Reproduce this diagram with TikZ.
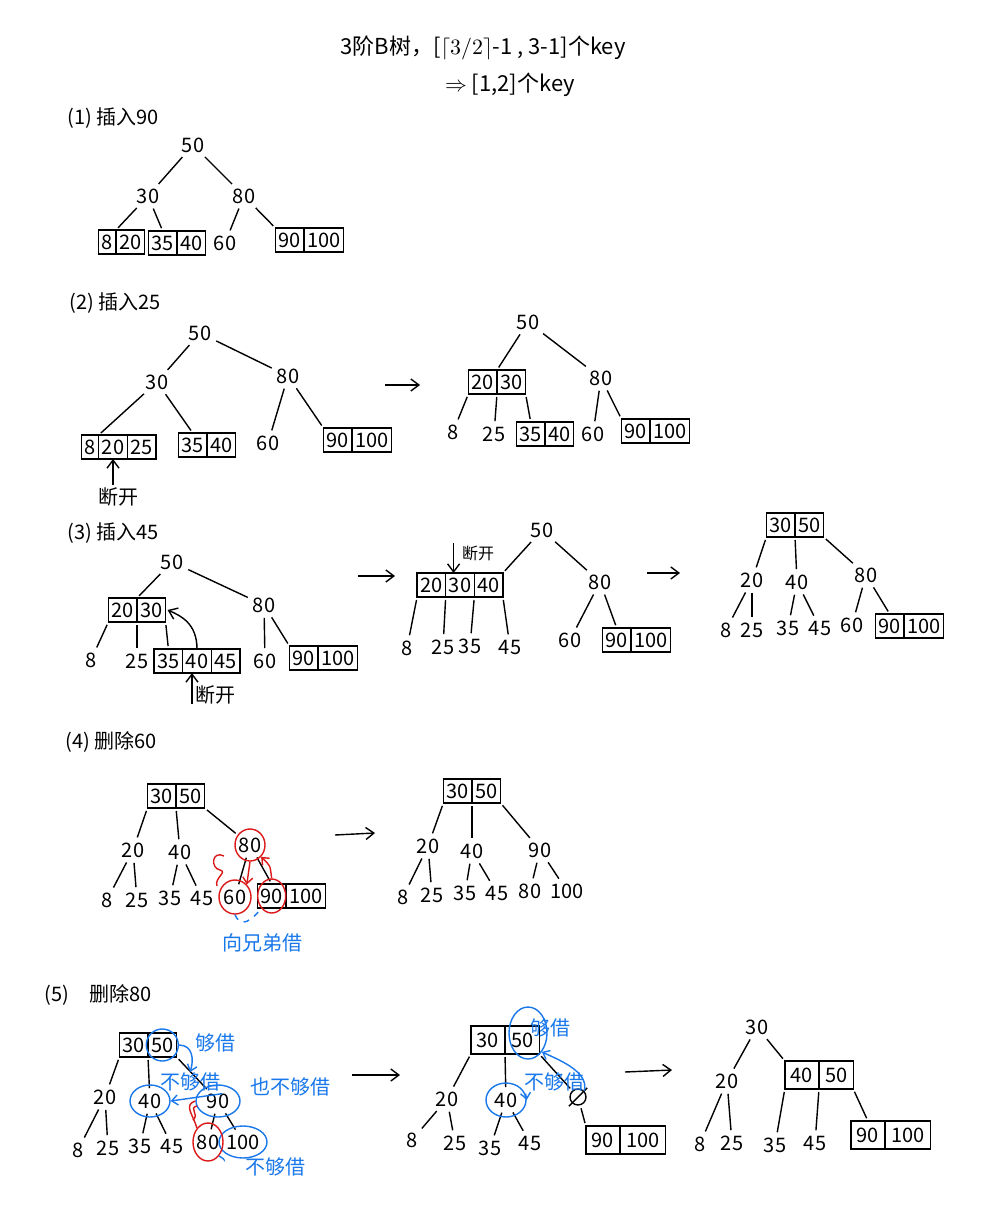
\documentclass[tikz,border=0pt]{standalone}
\usepackage{fontspec}
\setmainfont{Noto Sans CJK SC}
\usetikzlibrary{arrows.meta,shapes.geometric}
\definecolor{hblue}{RGB}{25,120,235}
\definecolor{hred}{RGB}{220,25,25}
\begin{document}
\begin{tikzpicture}[x=0.5pt,y=-0.5pt,
  key/.style={inner sep=1pt, font=\fontsize{10}{12}\selectfont},
  cell/.style={key, draw, line width=0.7pt, minimum height=12pt, inner xsep=1.6pt, outer sep=0pt},
  lnk/.style={line width=0.7pt, shorten <=1.5pt, shorten >=1.5pt},
  arr/.style={line width=0.7pt, -{Straight Barb[length=4pt,width=6pt]}},
  lbl/.style={font=\fontsize{10}{12}\selectfont, inner sep=1pt},
  bnote/.style={lbl, text=hblue},
  bline/.style={hblue, line width=0.7pt},
  rline/.style={hred, line width=0.7pt},
  bcirc/.style={ellipse, draw=hblue, line width=0.7pt, inner sep=0pt},
  rcirc/.style={ellipse, draw=hred, line width=0.7pt, inner sep=0pt}]
\fill[white] (0,0) rectangle (1000,1219);
\useasboundingbox (0,0) rectangle (1000,1219);

% title
\node[lbl,font=\fontsize{11}{13}\selectfont] (t1) at (483,48) {3阶B树，[$\lceil 3/2\rceil$-1 , 3-1]个key};
\node[lbl,font=\fontsize{11}{13}\selectfont] (t2) at (510,85) {$\Rightarrow$ [1,2]个key};

% ---------- (1)
\node[lbl,anchor=west] (h1) at (65,118) {(1) 插入90};
\node[key] (a50) at (193,145) {50};
\node[key] (a30) at (148,196) {30};
\node[key] (a80) at (244,196) {80};
\node[cell,anchor=east] (a8) at (116,242) {8};
\node[cell,anchor=west] (a20) at (a8.east) {20};
\node[cell,anchor=east] (a35) at (177,243) {35};
\node[cell,anchor=west] (a40) at (a35.east) {40};
\node[key] (a60) at (225,243) {60};
\node[cell,anchor=east] (a90) at (304,240) {90};
\node[cell,anchor=west] (a100) at (a90.east) {100};
\draw[lnk] (a50) -- (a30);
\draw[lnk] (a50) -- (a80);
\draw[lnk] (a30) -- (a20.north west);
\draw[lnk] (a30) -- (a35.north);
\draw[lnk] (a80) -- (a60);
\draw[lnk] (a80) -- (a90.north west);

% ---------- (2)
\node[lbl,anchor=west] (h2) at (67,303) {(2) 插入25};
\node[key] (b50) at (200,333) {50};
\node[key] (b30) at (157,382) {30};
\node[key] (b80) at (288,376) {80};
\node[cell] (b20) at (113,447) {20};
\node[cell,anchor=east] (b8) at (b20.west) {8};
\node[cell,anchor=west] (b25) at (b20.east) {25};
\node[cell,anchor=east] (b35) at (207,445) {35};
\node[cell,anchor=west] (b40) at (b35.east) {40};
\node[key] (b60) at (268,443) {60};
\node[cell,anchor=east] (b90) at (352,440) {90};
\node[cell,anchor=west] (b100) at (b90.east) {100};
\draw[lnk] (b50) -- (b30);
\draw[lnk] (b50) -- (b80);
\draw[lnk] (b30) -- (b20.north west);
\draw[lnk] (b30) -- (b35.north);
\draw[lnk] (b80) -- (b60);
\draw[lnk] (b80) -- (b90.north west);
\node[lbl] (bk) at (118,497) {断开};
\draw[arr] (b20.south |- bk.north) -- (b20.south);
\coordinate (ar1a) at (385,385); \coordinate (ar1b) at (420,385);
\draw[arr] (ar1a) -- (ar1b);

\node[key] (c50) at (528,322) {50};
\node[cell,anchor=east] (c20) at (497,382) {20};
\node[cell,anchor=west] (c30) at (c20.east) {30};
\node[key] (c80) at (601,378) {80};
\node[key] (c8) at (453,432) {8};
\node[key] (c25) at (494,434) {25};
\node[cell,anchor=east] (c35) at (545,434) {35};
\node[cell,anchor=west] (c40) at (c35.east) {40};
\node[key] (c60) at (593,434) {60};
\node[cell,anchor=east] (c90) at (650,431) {90};
\node[cell,anchor=west] (c100) at (c90.east) {100};
\draw[lnk] (c50) -- (c20.north east);
\draw[lnk] (c50) -- (c80);
\draw[lnk] (c20.south west) -- (c8);
\draw[lnk] (c20.south east) -- (c25);
\draw[lnk] (c30.south east) -- (c35.north);
\draw[lnk] (c80) -- (c60);
\draw[lnk] (c80) -- (c90.north west);

% ---------- (3)
\node[lbl,anchor=west] (h3) at (65,533) {(3) 插入45};
\node[key] (d50) at (172,562) {50};
\node[cell,anchor=east] (d20) at (137,610) {20};
\node[cell,anchor=west] (d30) at (d20.east) {30};
\node[key] (d80) at (264,605) {80};
\node[key] (d8) at (91,660) {8};
\node[key] (d25) at (137,661) {25};
\node[cell] (d40) at (197,661) {40};
\node[cell,anchor=east] (d35) at (d40.west) {35};
\node[cell,anchor=west] (d45) at (d40.east) {45};
\node[key] (d60) at (265,661) {60};
\node[cell,anchor=east] (d90) at (318,658) {90};
\node[cell,anchor=west] (d100) at (d90.east) {100};
\draw[lnk] (d50) -- (d20.north east);
\draw[lnk] (d50) -- (d80);
\draw[lnk] (d20.south west) -- (d8);
\draw[lnk] (d20.south east) -- (d25);
\draw[lnk] (d30.south east) -- (d35.north);
\draw[lnk] (d80) -- (d60);
\draw[lnk] (d80) -- (d90.north west);
\draw[arr] (d40.north) .. controls +(0,-25) and +(14,6) .. ([xshift=1pt]d30.east);
\node[lbl] (dk) at (215,695) {断开};
\coordinate (dkb) at (192,704);
\draw[arr] (dkb) -- (dkb |- d40.south);
\coordinate (ar2a) at (358,576); \coordinate (ar2b) at (395,576);
\draw[arr] (ar2a) -- (ar2b);

\node[key] (e50) at (542,530) {50};
\node[cell] (e30) at (460,585) {30};
\node[cell,anchor=east] (e20) at (e30.west) {20};
\node[cell,anchor=west] (e40) at (e30.east) {40};
\node[key] (e80) at (600,582) {80};
\node[key] (e8) at (407,648) {8};
\node[key] (e25) at (443,647) {25};
\node[key] (e35) at (470,646) {35};
\node[key] (e45) at (510,647) {45};
\node[key] (e60) at (570,640) {60};
\node[cell,anchor=east] (e90) at (631,640) {90};
\node[cell,anchor=west] (e100) at (e90.east) {100};
\draw[lnk] (e50) -- (e40.north east);
\draw[lnk] (e50) -- (e80);
\draw[lnk] (e20.south west) -- (e8);
\draw[lnk] (e20.south east) -- (e25);
\draw[lnk] (e30.south east) -- (e35);
\draw[lnk] (e40.south east) -- (e45);
\draw[lnk] (e80) -- (e60);
\draw[lnk] (e80) -- (e90.north);
\node[lbl,font=\fontsize{8}{10}\selectfont] (ek) at (478,553) {断开};
\draw[arr] ([xshift=-3pt]ek.north west) -- ([xshift=-3pt]ek.north west |- e30.north);
\coordinate (ar3a) at (647,573); \coordinate (ar3b) at (680,573);
\draw[arr] (ar3a) -- (ar3b);

\node[cell,anchor=east] (f30) at (795,525) {30};
\node[cell,anchor=west] (f50) at (f30.east) {50};
\node[key] (f20) at (752,580) {20};
\node[key] (f40) at (797,582) {40};
\node[key] (f80) at (866,575) {80};
\node[key] (f8) at (726,630) {8};
\node[key] (f25) at (752,630) {25};
\node[key] (f35) at (788,628) {35};
\node[key] (f45) at (820,628) {45};
\node[key] (f60) at (852,625) {60};
\node[cell,anchor=east] (f90) at (904,626) {90};
\node[cell,anchor=west] (f100) at (f90.east) {100};
\draw[lnk] (f30.south west) -- (f20);
\draw[lnk] (f30.south east) -- (f40);
\draw[lnk] (f50.south east) -- (f80);
\draw[lnk] (f20) -- (f8);
\draw[lnk] (f20) -- (f25);
\draw[lnk] (f40) -- (f35);
\draw[lnk] (f40) -- (f45);
\draw[lnk] (f80) -- (f60);
\draw[lnk] (f80) -- (f90.north);

% ---------- (4)
\node[lbl,anchor=west] (h4) at (63,742) {(4) 删除60};
\node[cell,anchor=east] (g30) at (176,796) {30};
\node[cell,anchor=west] (g50) at (g30.east) {50};
\node[key] (g20) at (133,850) {20};
\node[key] (g40) at (180,852) {40};
\node[key] (g80) at (250,845) {80};
\node[key] (g8) at (107,900) {8};
\node[key] (g25) at (137,900) {25};
\node[key] (g35) at (170,898) {35};
\node[key] (g45) at (202,898) {45};
\node[key] (g60) at (235,897) {60};
\node[cell,anchor=east] (g90) at (286,896) {90};
\node[cell,anchor=west] (g100) at (g90.east) {100};
\draw[lnk] (g30.south west) -- (g20);
\draw[lnk] (g30.south east) -- (g40);
\draw[lnk] (g50.south east) -- (g80);
\draw[lnk] (g20) -- (g8);
\draw[lnk] (g20) -- (g25);
\draw[lnk] (g40) -- (g35);
\draw[lnk] (g40) -- (g45);
\draw[lnk] (g80) -- (g60);
\draw[lnk] (g80) -- (g90.north);
\node[rcirc,minimum width=15pt,minimum height=16pt] (rg80) at (g80) {};
\node[rcirc,minimum width=16pt,minimum height=17pt] (rg60) at (g60) {};
\node[rcirc,minimum width=14pt,minimum height=17pt] (rg90) at (g90) {};
\draw[rline,-{Straight Barb[length=3pt,width=5pt]}] (rg90.north) .. controls +(-2,-14) and +(10,10) .. (rg80.south east);
\draw[rline,-{Straight Barb[length=3pt,width=5pt]}] (rg80.south) -- (rg60.north east);
\draw[rline] (224,856) .. controls (212,850) and (210,868) .. (220,870) .. controls (228,872) and (214,878) .. (217,886);
\draw[bline,dashed] (rg60.south) .. controls +(6,14) and +(-10,12) .. (rg90.south west);
\node[bnote] (gn) at (262,943) {向兄弟借};
\coordinate (ar4a) at (335,835); \coordinate (ar4b) at (375,833);
\draw[arr] (ar4a) -- (ar4b);

\node[cell,anchor=east] (h30) at (472,791) {30};
\node[cell,anchor=west] (h50) at (h30.east) {50};
\node[key] (h20) at (428,846) {20};
\node[key] (h40) at (472,851) {40};
\node[key] (h90) at (540,850) {90};
\node[key] (h8) at (403,897) {8};
\node[key] (h25) at (432,895) {25};
\node[key] (h35) at (465,893) {35};
\node[key] (h45) at (497,893) {45};
\node[key] (h80) at (530,891) {80};
\node[key] (h100) at (567,891) {100};
\draw[lnk] (h30.south west) -- (h20);
\draw[lnk] (h30.south east) -- (h40);
\draw[lnk] (h50.south east) -- (h90);
\draw[lnk] (h20) -- (h8);
\draw[lnk] (h20) -- (h25);
\draw[lnk] (h40) -- (h35);
\draw[lnk] (h40) -- (h45);
\draw[lnk] (h90) -- (h80);
\draw[lnk] (h90) -- (h100);

% ---------- (5)
\node[lbl,anchor=west] (h5) at (42,995) {(5)\quad 删除80};
\node[cell,anchor=east] (i30) at (148,1045) {30};
\node[cell,anchor=west] (i50) at (i30.east) {50};
\node[key] (i20) at (105,1097) {20};
\node[key] (i40) at (150,1101) {40};
\node[key] (i90) at (218,1101) {90};
\node[key] (i8) at (78,1150) {8};
\node[key] (i25) at (108,1148) {25};
\node[key] (i35) at (140,1146) {35};
\node[key] (i45) at (172,1146) {45};
\node[key] (i80) at (208,1142) {80};
\node[key] (i100) at (243,1142) {100};
\draw[lnk] (i30.south west) -- (i20);
\draw[lnk] (i30.south east) -- (i40);
\draw[lnk] (i50.south east) -- (i90);
\draw[lnk] (i20) -- (i8);
\draw[lnk] (i20) -- (i25);
\draw[lnk] (i40) -- (i35);
\draw[lnk] (i40) -- (i45);
\draw[lnk] (i90) -- (i80);
\draw[lnk] (i90) -- (i100);
\node[bcirc,minimum width=16pt,minimum height=16pt] (ci50) at (i50) {};
\node[bcirc,minimum width=20pt,minimum height=16pt] (ci40) at (i40) {};
\node[bcirc,minimum width=22pt,minimum height=16pt] (ci90) at (i90) {};
\node[bcirc,minimum width=24pt,minimum height=16pt] (ci100) at (i100) {};
\node[rcirc,minimum width=15pt,minimum height=19pt] (ci80) at (i80) {};
\node[bnote] (in1) at (215,1043) {够借};
\node[bnote] (in2) at (190,1082) {不够借};
\node[bnote] (in3) at (290,1087) {也不够借};
\node[bnote] (in4) at (275,1167) {不够借};
\draw[bline,-{Straight Barb[length=3pt,width=5pt]}] (ci50.east) .. controls +(14,0) and +(4,-12) .. (190,1072);
\draw[bline,-{Straight Barb[length=3pt,width=5pt]}] (in2.south east) -- (ci40.east);
\draw[rline] (ci90.west) .. controls +(-12,4) and +(-4,-14) .. (ci80.north west);
\draw[rline] (197,1106) .. controls (188,1108) and (200,1114) .. (193,1120);
\draw[bline,dashed] (ci80.south east) .. controls +(10,6) and +(-6,6) .. (ci100.south west);
\coordinate (ar5a) at (352,1075); \coordinate (ar5b) at (400,1075);
\draw[arr] (ar5a) -- (ar5b);

\node[cell,anchor=east,minimum height=14pt,inner xsep=3pt] (j30) at (505,1040) {30};
\node[cell,anchor=west,minimum height=14pt,inner xsep=3pt] (j50) at (j30.east) {50};
\node[key] (j20) at (447,1099) {20};
\node[key] (j40) at (506,1100) {40};
\node[circle,draw,line width=0.7pt,minimum size=8pt,inner sep=0pt] (jemp) at (578,1097) {};
\draw[line width=0.7pt] ([shift={(-1.5pt,-1.5pt)}]jemp.south west) -- ([shift={(1.5pt,1.5pt)}]jemp.north east);
\node[key] (j8) at (412,1140) {8};
\node[key] (j25) at (455,1143) {25};
\node[key] (j35) at (490,1148) {35};
\node[key] (j45) at (530,1143) {45};
\node[cell,anchor=east,minimum height=14pt,inner xsep=3pt] (j90) at (620,1140) {90};
\node[cell,anchor=west,minimum height=14pt,inner xsep=3pt] (j100) at (j90.east) {100};
\draw[lnk] (j30.south west) -- (j20);
\draw[lnk] (j30.south east) -- (j40);
\draw[lnk] (j50.south east) -- (jemp);
\draw[lnk] (jemp) -- (j90.north west);
\draw[lnk] (j20) -- (j8);
\draw[lnk] (j20) -- (j25);
\draw[lnk] (j40) -- (j35);
\draw[lnk] (j40) -- (j45);
\node[bcirc,minimum width=19pt,minimum height=26pt] (cj50) at (528,1033) {};
\node[bcirc,minimum width=20pt,minimum height=17pt] (cj40) at (j40) {};
\node[bnote] (jn1) at (550,1028) {够借};
\node[bnote] (jn2) at (554,1082) {不够借};
\draw[bline,-{Straight Barb[length=3pt,width=5pt]}] ([xshift=2pt]jn2.south west) -- (cj40.east);
\draw[bline,-{Straight Barb[length=3pt,width=5pt]}] (jemp.north east) .. controls +(6,-20) and +(12,6) .. (cj50.south east);
\coordinate (ar6a) at (625,1072); \coordinate (ar6b) at (672,1070);
\draw[arr] (ar6a) -- (ar6b);

\node[key] (k30) at (757,1027) {30};
\node[key] (k20) at (727,1081) {20};
\node[cell,anchor=east,minimum height=14pt,inner xsep=3pt] (k40) at (819,1075) {40};
\node[cell,anchor=west,minimum height=14pt,inner xsep=3pt] (k50) at (k40.east) {50};
\node[key] (k8) at (700,1144) {8};
\node[key] (k25) at (732,1143) {25};
\node[key] (k35) at (775,1145) {35};
\node[key] (k45) at (815,1143) {45};
\node[cell,anchor=east,minimum height=14pt,inner xsep=3pt] (k90) at (885,1135) {90};
\node[cell,anchor=west,minimum height=14pt,inner xsep=3pt] (k100) at (k90.east) {100};
\draw[lnk] (k30) -- (k20);
\draw[lnk] (k30) -- (k40.north west);
\draw[lnk] (k20) -- (k8);
\draw[lnk] (k20) -- (k25);
\draw[lnk] (k40.south west) -- (k35);
\draw[lnk] (k40.south east) -- (k45);
\draw[lnk] (k50.south east) -- (k90.north);
\end{tikzpicture}
\end{document}
